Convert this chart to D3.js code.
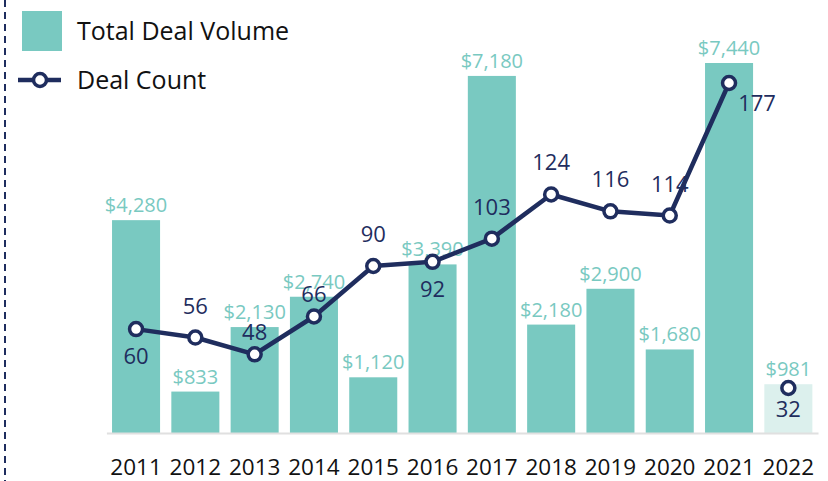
<!DOCTYPE html>
<html>
<head>
<meta charset="utf-8">
<script src="https://cdn.jsdelivr.net/npm/d3@7"></script>
<style>
  body { margin: 0; background: #fff; }
  text { font-family: "Open Sans", "Noto Sans", sans-serif; }
</style>
</head>
<body>
<div id="chart"></div>
<script>
const years = ["2011", "2012", "2013", "2014", "2015", "2016", "2017", "2018", "2019", "2020", "2021", "2022"];
const dealVolume = [4280, 833, 2130, 2740, 1120, 3390, 7180, 2180, 2900, 1680, 7440, 981];
const dealCount = [60, 56, 48, 66, 90, 92, 103, 124, 116, 114, 177, 32];
// where the count label sits relative to its point
const countLabelPos = ["below", "above", "near", "near", "above", "below", "above", "above", "above", "above", "right", "belowNear"];
const partialYear = "2022";

const W = 828, H = 481;
const teal = "#79c9c1", tealLight = "#dcf0ed", navy = "#1f2d5e";

const svg = d3.select("#chart").append("svg")
  .attr("width", W)
  .attr("height", H);

const x = d3.scaleBand()
  .domain(years)
  .range([106.4, 818])
  .paddingInner(0.19)
  .paddingOuter(0.095);

const baseY = 433;
const yVol = d3.scaleLinear().domain([0, 7440]).range([baseY, 63]);
const yCnt = d3.scaleLinear().domain([32, 177]).range([388, 83]);

// dashed border on left
svg.append("line")
  .attr("x1", 5).attr("x2", 5)
  .attr("y1", 0).attr("y2", H)
  .attr("stroke", navy)
  .attr("stroke-width", 2)
  .attr("stroke-dasharray", "7,5");

// bars
svg.selectAll("rect.bar")
  .data(years)
  .enter()
  .append("rect")
  .attr("class", "bar")
  .attr("x", d => x(d))
  .attr("y", (d, i) => yVol(dealVolume[i]))
  .attr("width", x.bandwidth())
  .attr("height", (d, i) => baseY - yVol(dealVolume[i]))
  .attr("fill", d => d === partialYear ? tealLight : teal);

// baseline axis
const xAxis = svg.append("g")
  .attr("transform", `translate(0,${baseY})`)
  .call(d3.axisBottom(x).tickSize(0).tickPadding(26));
xAxis.select(".domain").attr("stroke", "#e0e0e0").attr("stroke-width", 2);
xAxis.selectAll("text")
  .style("font-family", "\"Open Sans\", sans-serif")
  .style("font-size", "22.5px")
  .attr("fill", "#111");

// bar labels
svg.selectAll("text.vol")
  .data(years)
  .enter()
  .append("text")
  .attr("class", "vol")
  .attr("x", d => x(d) + x.bandwidth() / 2)
  .attr("y", (d, i) => yVol(dealVolume[i]) - 8)
  .attr("text-anchor", "middle")
  .attr("fill", teal)
  .style("font-size", "20px")
  .text((d, i) => "$" + d3.format(",")(dealVolume[i]));

// line (2011-2021, partial year left unconnected)
const cx = d => x(d) + x.bandwidth() / 2;
const linePts = years.map((y, i) => [y, dealCount[i]]).filter(p => p[0] !== partialYear);
svg.append("path")
  .datum(linePts)
  .attr("fill", "none")
  .attr("stroke", navy)
  .attr("stroke-width", 4.5)
  .attr("stroke-linejoin", "round")
  .attr("d", d3.line().x(p => cx(p[0])).y(p => yCnt(p[1])));

svg.selectAll("circle.pt")
  .data(years)
  .enter()
  .append("circle")
  .attr("class", "pt")
  .attr("cx", d => cx(d))
  .attr("cy", (d, i) => yCnt(dealCount[i]))
  .attr("r", 6.5)
  .attr("fill", "#fff")
  .attr("stroke", navy)
  .attr("stroke-width", 3.5);

// count labels
const off = {
  above: [0, -24], near: [0, -14], below: [0, 35], belowNear: [0, 29], right: [28, 28]
};
svg.selectAll("text.cnt")
  .data(years)
  .enter()
  .append("text")
  .attr("class", "cnt")
  .attr("x", (d, i) => cx(d) + off[countLabelPos[i]][0])
  .attr("y", (d, i) => yCnt(dealCount[i]) + off[countLabelPos[i]][1])
  .attr("text-anchor", "middle")
  .attr("fill", navy)
  .style("font-size", "22px")
  .text((d, i) => dealCount[i]);

// legend
const lg = svg.append("g");
lg.append("rect")
  .attr("x", 22).attr("y", 11)
  .attr("width", 40).attr("height", 40)
  .attr("fill", teal);
lg.append("text")
  .attr("x", 77).attr("y", 40)
  .attr("fill", "#111")
  .style("font-size", "25px")
  .text("Total Deal Volume");
lg.append("line")
  .attr("x1", 18).attr("x2", 61)
  .attr("y1", 80).attr("y2", 80)
  .attr("stroke", navy).attr("stroke-width", 4.5);
lg.append("circle")
  .attr("cx", 40).attr("cy", 80).attr("r", 6.5)
  .attr("fill", "#fff").attr("stroke", navy).attr("stroke-width", 3.5);
lg.append("text")
  .attr("x", 77).attr("y", 89)
  .attr("fill", "#111")
  .style("font-size", "25px")
  .text("Deal Count");
</script>
</body>
</html>
